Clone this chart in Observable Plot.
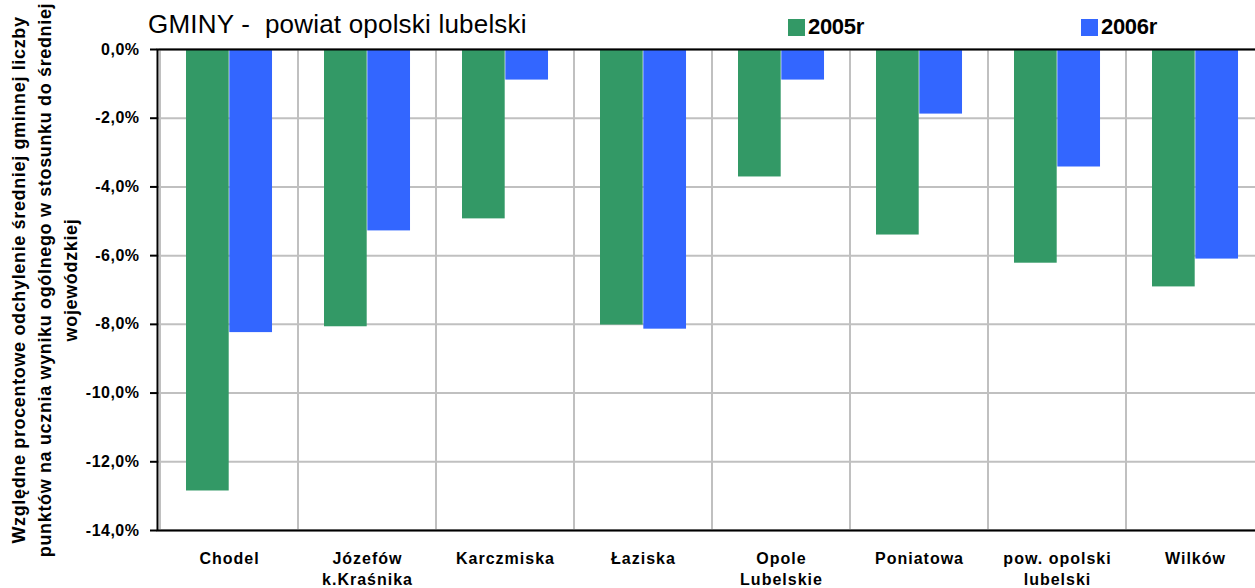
<!DOCTYPE html>
<html><head><meta charset="utf-8">
<script src="https://cdn.jsdelivr.net/npm/d3@7"></script>
<script src="https://cdn.jsdelivr.net/npm/@observablehq/plot@0.6"></script>
<style>
html,body{margin:0;padding:0;background:#fff;overflow:hidden;}
#wrap{position:relative;width:1255px;height:588px;overflow:hidden;}
#title{position:absolute;left:148px;top:9px;font:26px "Liberation Sans",Arial,sans-serif;white-space:pre;color:#000;letter-spacing:0.2px;}
.leg{position:absolute;top:14px;font:bold 22px "Liberation Sans",Arial,sans-serif;display:flex;align-items:center;letter-spacing:-0.3px;color:#000;}
.sw{width:17px;height:17px;margin-right:3px;}
g[aria-label="x-axis tick label"] text{letter-spacing:1px;}
g[aria-label="y-axis tick label"] text{letter-spacing:0.5px;}
g[aria-label="text"] text{letter-spacing:0.65px;}
</style></head><body><div id="wrap"><div id="chart"></div>
<div id="title"></div>
<div id="legend"></div>
</div>
<script>
const chartTitle = "GMINY -  powiat opolski lubelski";
const categories = ["Chodel","Józefów k.Kraśnika","Karczmiska","Łaziska","Opole Lubelskie","Poniatowa","pow. opolski lubelski","Wilków"];
const tickLabels = ["Chodel","Józefów\nk.Kraśnika","Karczmiska","Łaziska","Opole\nLubelskie","Poniatowa","pow. opolski\nlubelski","Wilków"];
const series = ["2005r","2006r"];
const colors = ["#339966","#3366FF"];
const v2005 = [-12.85,-8.07,-4.93,-8.02,-3.71,-5.40,-6.22,-6.91];
const v2006 = [-8.24,-5.28,-0.89,-8.14,-0.89,-1.88,-3.42,-6.10];
const yTicks = [0,-2,-4,-6,-8,-10,-12,-14];
const yTitle = "Względne procentowe odchylenie średniej gminnej liczby\npunktów na ucznia wyniku ogólnego w stosunku do średniej\nwojewódzkiej";

document.getElementById("title").textContent = chartTitle;
const data = categories.map((c,i)=>({cat:c, v2005:v2005[i], v2006:v2006[i]}));
const labelOf = new Map(categories.map((c,i)=>[c,tickLabels[i]]));
const fmt = d => (d===0?"0,0":d.toFixed(1).replace(".",","))+"%";

const bw = (1266-157)/categories.length;
const plot = Plot.plot({
  width:1255, height:588,
  marginTop:49, marginBottom:58, marginLeft:157, marginRight:-11,
  style:{fontFamily:'"Liberation Sans", Arial, sans-serif', background:"transparent", color:"#000"},
  x:{domain:categories, range:[157,1266], padding:0},
  y:{domain:[-14,0]},
  marks:[
    Plot.barY(categories,{x:d=>d, y1:-14, y2:0, fill:"none", stroke:"#c0c0c0", strokeWidth:2}),
    Plot.gridY(yTicks,{stroke:"#c0c0c0", strokeOpacity:1, strokeWidth:2}),
    Plot.barY(data,{x:"cat", y:"v2005", fill:colors[0], insetLeft:26, insetRight:bw-26-bw*0.3125}),
    Plot.barY(data,{x:"cat", y:"v2006", fill:colors[1], insetLeft:26+bw*0.3125, insetRight:bw-26-bw*0.625}),
    Plot.frame({stroke:"#000", strokeWidth:2}),
    Plot.axisY({ticks:yTicks, tickFormat:fmt, tickSize:7, tickPadding:11, fontSize:16, fontWeight:"bold", strokeWidth:2, label:null}),
    Plot.axisX({tickSize:0, tickPadding:19, fontSize:16, fontWeight:"bold", tickFormat:d=>labelOf.get(d), lineHeight:1.3, label:null}),
    Plot.text([yTitle],{frameAnchor:"left", textAnchor:"middle", dx:-115, dy:-10, rotate:-90, fontSize:18, fontWeight:"bold", lineHeight:1.44})
  ]
});
document.getElementById("chart").appendChild(plot);

const legend = document.getElementById("legend");
const legX = [788, 1081];
series.forEach((s,i)=>{
  const d = document.createElement("div");
  d.className="leg"; d.style.left=legX[i]+"px";
  d.innerHTML = `<span class="sw" style="background:${colors[i]}"></span>${s}`;
  legend.appendChild(d);
});
</script></body></html>
